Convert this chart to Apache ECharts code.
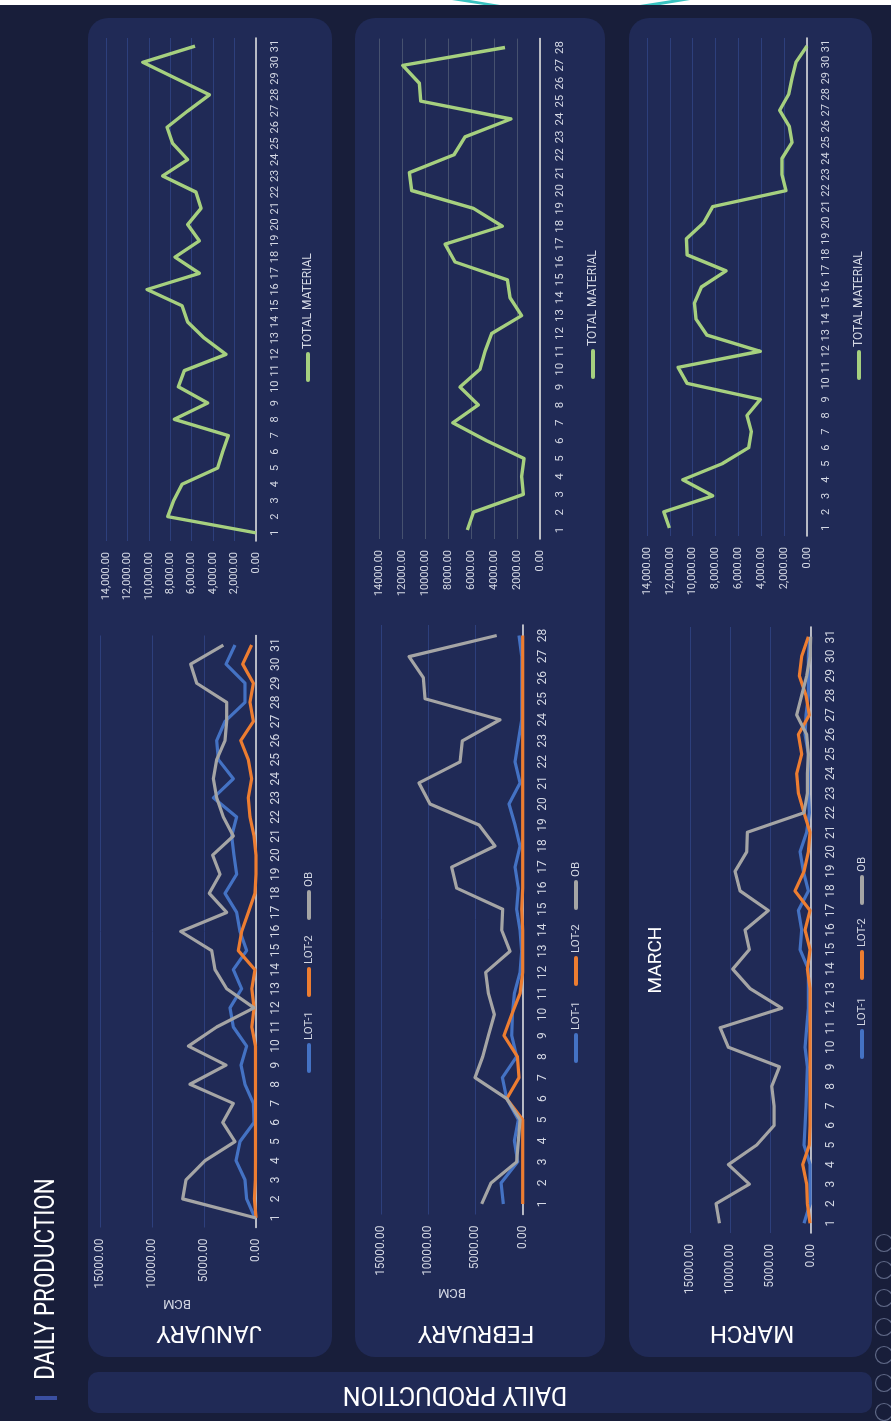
<!DOCTYPE html>
<html><head><meta charset="utf-8">
<script src="https://cdn.jsdelivr.net/npm/echarts@6/dist/echarts.min.js"></script>
<style>html,body{margin:0;padding:0;background:#181e3a;overflow:hidden}#c{width:891px;height:1421px;}</style>
</head><body><div id="c"></div><script>
// ---------- DATA ----------
const days31 = ['1','2','3','4','5','6','7','8','9','10','11','12','13','14','15','16','17','18','19','20','21','22','23','24','25','26','27','28','29','30','31'];
const days28 = ['1','2','3','4','5','6','7','8','9','10','11','12','13','14','15','16','17','18','19','20','21','22','23','24','25','26','27','28'];
const lotNames = ['LOT-1','LOT-2','OB'];
const totalName = 'TOTAL MATERIAL';
const monthNames = ['JANUARY','FEBRUARY','MARCH'];
const axisTitle = 'BCM';
const dashTitle = 'DAILY PRODUCTION';

const janLot1 = [100,900,1060,1920,1540,190,250,1060,1440,900,2180,2500,1380,2180,900,1540,1860,2980,1860,2120,2340,1860,4100,2180,3620,3780,2980,1060,1060,2880,2020];
const janLot2 = [0,150,60,50,50,50,50,50,50,50,400,190,400,100,1700,1380,740,100,0,0,190,580,740,420,740,1470,250,580,250,1280,420];
const janOB   = [0,7050,6730,4900,2020,3200,2180,6350,2880,6500,3780,190,2820,3940,4260,7240,2820,4490,3460,4170,2180,3140,3780,4100,3780,2980,2820,2820,5700,6280,3140];
const janTotal = [0,8240,7680,6900,3580,3110,2580,7620,4510,7250,6690,2800,4820,6380,6900,10170,5290,7560,5290,6380,5130,5600,8710,6380,7780,8300,6380,4350,7460,10570,5690];

const febLot1 = [2050,2290,530,880,460,1690,2150,640,1160,1090,880,280,110,280,640,460,810,280,810,1450,280,810,460,100,100,100,100,390];
const febLot2 = [0,0,0,0,0,1690,390,560,1980,1160,280,0,0,0,100,0,0,0,0,0,0,0,0,0,0,0,0,0];
const febOB   = [4340,3350,640,460,280,1690,5050,4230,3630,3000,3630,3920,1340,2220,2120,6990,7520,2930,4620,9810,10980,6630,6390,2400,10340,10520,12030,2750];
const febTotal = [6330,5800,1450,1600,1390,4640,7600,5370,6970,5230,4790,4210,1600,2610,2840,7400,8270,3280,5800,11180,11380,7490,6530,2530,10390,10510,11960,3050];

const marLot1 = [830,80,80,80,830,700,580,500,410,700,500,290,290,290,1320,1120,1530,290,910,1320,500,170,290,290,290,700,580,290,290,290,100];
const marLot2 = [80,410,500,990,170,80,80,80,80,80,80,80,80,410,80,700,80,1950,830,290,80,830,1530,1740,1120,1530,170,580,1410,1120,290];
const marOB   = [11340,11760,7620,10230,6710,4550,4550,4840,3890,10230,11260,3600,7530,9690,7620,8160,5260,8780,9400,7950,7870,830,410,410,290,500,1740,1120,500,80,0];
const marTotal = [12040,12530,8250,10870,7430,5100,4870,5250,4080,10490,11280,4080,8750,9710,9850,9240,7080,10490,10550,9040,8250,1840,2190,2190,1310,1550,2390,1600,1310,960,0];

// ---------- STYLE / LAYOUT ----------
const lotColors = ['#4472c4','#ed7d31','#a5a5a5'];
const totalColor = '#a6d07f';
const txt = '#d4d8e4';
const FONT = 'Roboto, "Open Sans", sans-serif';
const fmtPlain = v => v.toFixed(2);
const fmtComma = v => v.toLocaleString('en-US',{minimumFractionDigits:2, maximumFractionDigits:2});

const charts = [
  {grid:{left:100, top:635.5, width:156, height:592}, cats:days31, max:15000, step:5000, fmt:fmtPlain, split:'#2d3f7c', lots:[janLot1,janLot2,janOB], catSize:12},
  {grid:{left:106, top:38, width:150, height:503}, cats:days31, max:14000, step:2000, fmt:fmtComma, split:'#2d3f7c', total:janTotal, catSize:11},
  {grid:{left:381, top:625, width:141.7, height:589.5}, cats:days28, max:15000, step:5000, fmt:fmtPlain, split:'#2d3f7c', lots:[febLot1,febLot2,febOB], catSize:12},
  {grid:{left:379.3, top:38.6, width:160.7, height:500.4}, cats:days28, max:14000, step:2000, fmt:fmtPlain, split:'#46516f', total:febTotal, catSize:11.5},
  {grid:{left:690, top:627, width:120.7, height:606}, cats:days31, max:15000, step:5000, fmt:fmtPlain, split:'#2d3f7c', lots:[marLot1,marLot2,marOB], catSize:12},
  {grid:{left:647, top:38, width:160, height:498}, cats:days31, max:14000, step:2000, fmt:fmtComma, split:'#2d3f7c', total:marTotal, catSize:11}
];

const grid = [], xAxis = [], yAxis = [], series = [];
charts.forEach((c, i) => {
  grid.push(Object.assign({containLabel:false}, c.grid));
  xAxis.push({
    type:'value', gridIndex:i, inverse:true, min:0, max:c.max, interval:c.step,
    axisLine:{show:false}, axisTick:{show:false},
    splitLine:{show:true, lineStyle:{color:c.split, width:1}},
    axisLabel:{rotate:90, margin:11, color:txt, fontSize:c.lots?12:11, fontFamily:FONT, formatter:c.fmt}
  });
  yAxis.push({
    type:'category', gridIndex:i, position:'right', data:c.cats, boundaryGap:true,
    axisTick:{show:false}, splitLine:{show:false},
    axisLine:{show:true, onZero:false, lineStyle:{color:'#dcdcdc', width:1.6}},
    axisLabel:{rotate:90, margin:14, interval:0, color:txt, fontSize:c.catSize, fontFamily:FONT}
  });
  if (c.lots) {
    c.lots.forEach((arr, k) => {
      series.push({type:'line', name:lotNames[k], xAxisIndex:i, yAxisIndex:i, data:arr, symbol:'none',
        lineStyle:{color:lotColors[k], width:3.2, join:'round'}, itemStyle:{color:lotColors[k]}, z:3+k, animation:false});
    });
  } else {
    series.push({type:'line', name:totalName, xAxisIndex:i, yAxisIndex:i, data:c.total, symbol:'none',
      lineStyle:{color:totalColor, width:3.4, join:'round'}, itemStyle:{color:totalColor}, z:3, animation:false});
  }
});

// ---------- DECORATION (graphic) ----------
const G = [];
const panelFill = '#202a56';
G.push({type:'rect', z:-10, shape:{x:0,y:0,width:891,height:5}, style:{fill:'#ffffff'}});
G.push({type:'polygon', z:-9, shape:{points:[[452,0],[470,0],[500,5],[484,5]]}, style:{fill:'#39c3c1'}});
G.push({type:'polygon', z:-9, shape:{points:[[640,5],[660,5],[690,0],[672,0]]}, style:{fill:'#39c3c1'}});
[[88,332],[355,605],[629,872]].forEach(p => {
  G.push({type:'rect', z:-10, shape:{x:p[0], y:18, width:p[1]-p[0], height:1339, r:20}, style:{fill:panelFill}});
});
G.push({type:'rect', z:-10, shape:{x:88, y:1372, width:784, height:41, r:10}, style:{fill:panelFill}});
G.push({type:'text', z:10, x:47, y:1279, rotation:Math.PI/2, scaleX:0.8,
  style:{text:dashTitle, font:'28px '+FONT, fill:'#ffffff', align:'center', verticalAlign:'middle'}});
G.push({type:'rect', z:10, shape:{x:35, y:1396, width:22, height:4}, style:{fill:'#3a4fa0'}});
G.push({type:'text', z:10, x:455, y:1393, rotation:Math.PI,
  style:{text:dashTitle, font:'25px '+FONT, fill:'#ffffff', align:'center', verticalAlign:'middle'}});
[[209,monthNames[0]],[476,monthNames[1]],[752,monthNames[2]]].forEach(t => {
  G.push({type:'text', z:10, x:t[0], y:1332, rotation:Math.PI,
    style:{text:t[1], font:'24px '+FONT, fill:'#ffffff', align:'center', verticalAlign:'middle'}});
});
[[177,1303],[452,1292]].forEach(p => {
  G.push({type:'text', z:10, x:p[0], y:p[1], rotation:Math.PI,
    style:{text:axisTitle, font:'13px '+FONT, fill:txt, align:'center', verticalAlign:'middle'}});
});
G.push({type:'text', z:10, x:656, y:960, rotation:Math.PI/2,
  style:{text:monthNames[2], font:'19px '+FONT, fill:'#ffffff', align:'center', verticalAlign:'middle'}});

function legendItem(x, yBottom, name, color, size) {
  G.push({type:'rect', z:10, shape:{x:x-2, y:yBottom-30, width:4, height:30, r:2}, style:{fill:color}});
  G.push({type:'text', z:10, x:x, y:yBottom-33, rotation:Math.PI/2,
    style:{text:name, font:size+'px '+FONT, fill:txt, align:'left', verticalAlign:'middle'}});
}
[[309,[1073,997,920]],[576,[1063,986,910]],[862,[1059,980,905]]].forEach(L => {
  L[1].forEach((yb, k) => legendItem(L[0], yb, lotNames[k], lotColors[k], 11.5));
});
[[308,382],[593,379],[859,380]].forEach(L => legendItem(L[0], L[1], totalName, totalColor, 12));

[1243,1270,1298,1327,1355,1383,1412].forEach(cy => {
  G.push({type:'circle', z:10, shape:{cx:884, cy:cy, r:8.5}, style:{fill:'none', stroke:'#5f6886', lineWidth:1.2}});
});

const chart = echarts.init(document.getElementById('c'), null, {renderer:'canvas'});
chart.setOption({
  backgroundColor:'#181e3a',
  animation:false,
  grid, xAxis, yAxis, series,
  graphic:{elements:G}
});
</script></body></html>
